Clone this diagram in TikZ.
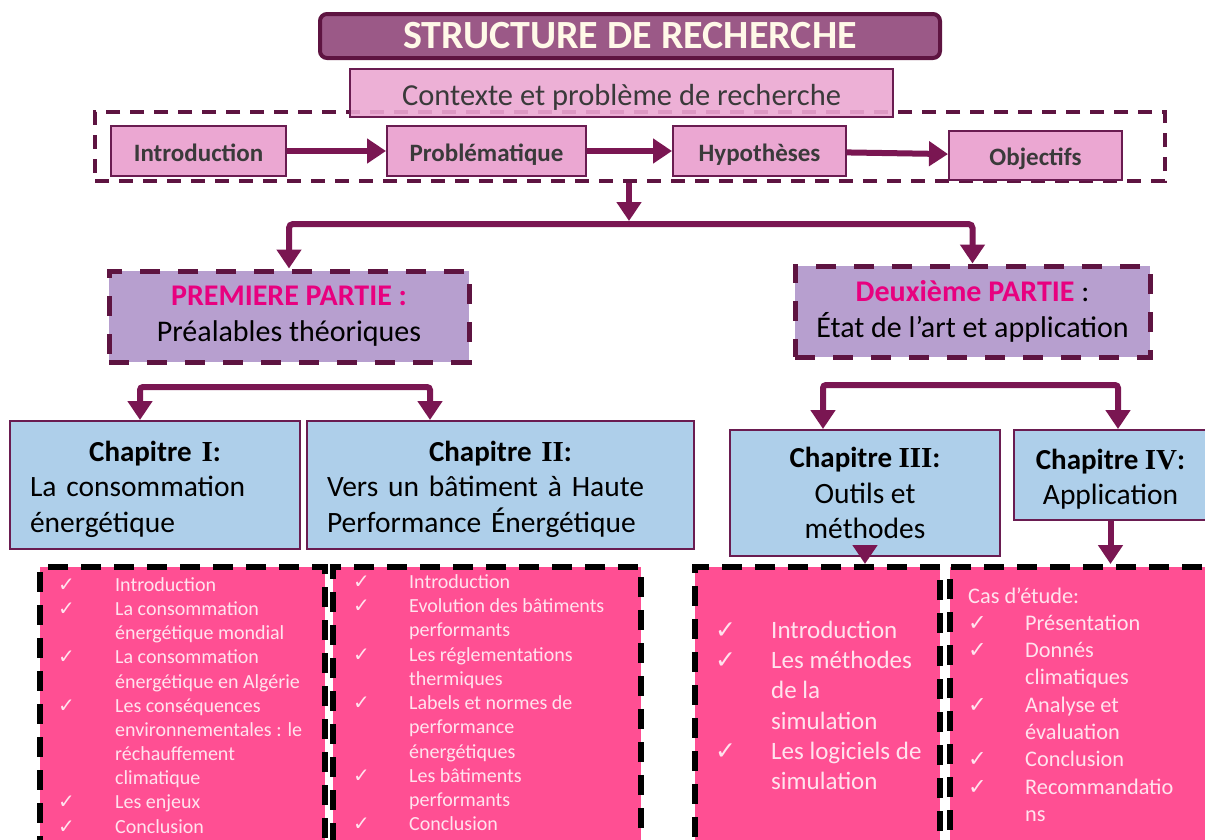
\documentclass[tikz,border=0pt]{standalone}
\usepackage{fontspec}
\setmainfont{Carlito}
\newfontfamily\dejavu{DejaVu Sans}
\newfontfamily\romfont{Liberation Serif}
\usetikzlibrary{arrows.meta}
\definecolor{plum}{HTML}{5E1441}
\definecolor{arrowc}{HTML}{7A1652}
\definecolor{titlefill}{HTML}{9B5987}
\definecolor{cream}{HTML}{FFF9E8}
\definecolor{lightpink}{HTML}{EBA7D2}
\definecolor{boxborder}{HTML}{6A1C51}
\definecolor{graytext}{HTML}{3A3A3A}
\definecolor{lavender}{HTML}{B79FCF}
\definecolor{partmag}{HTML}{E8007F}
\definecolor{chapblue}{HTML}{AECFEA}
\definecolor{hotpink}{HTML}{FF4F93}
\definecolor{listtext}{HTML}{FFE3EE}
\newcommand\ck{{\dejavu ✓}}
\newcommand\chaptitle[1]{{\bfseries\fontsize{29}{35.5}\selectfont Chapitre {\romfont #1}:}}
\tikzset{
  arr/.style={draw=arrowc, line width=6pt, -{Triangle[width=24pt,length=19pt]}},
  topbox/.style={draw=boxborder, line width=2pt, fill=lightpink, text=graytext,
    font=\fontsize{25}{30}\selectfont\bfseries, inner sep=0pt, text height=20pt, text depth=0pt},
  partbox/.style={draw=plum, line width=5pt, dash pattern=on 20pt off 18pt,
    fill=lavender, inner sep=0pt, align=center, font=\fontsize{30}{36}\selectfont},
  chapbox/.style={draw=boxborder, line width=2pt, fill=chapblue, inner sep=0pt,
    font=\fontsize{29.5}{35.5}\selectfont},
  chaptext/.style={inner sep=0pt, font=\fontsize{29.5}{35.5}\selectfont},
  listbox/.style={draw=black, line width=6pt, dash pattern=on 20pt off 13pt,
    fill=hotpink, inner sep=0pt},
  listtxt/.style={text=listtext, inner sep=0pt, anchor=base west},
}
\begin{document}
\begin{tikzpicture}[x=1pt,y=-1pt]
\useasboundingbox (0,0) rectangle (1205,839);
\clip (0,0) rectangle (1205,839);

% title
\node[draw=plum, line width=4pt, fill=titlefill, rounded corners=7pt,
  minimum width=620pt, minimum height=44pt, inner sep=0pt, text=cream,
  font=\fontsize{40}{44}\selectfont\bfseries] (title) at (630,36) {STRUCTURE DE RECHERCHE};

% dashed frame and context box
\node[draw=plum, line width=4pt, dash pattern=on 14pt off 10pt,
  minimum width=1070pt, minimum height=69pt, inner sep=0pt] (frame) at (630,146.5) {};
\node[draw=boxborder, line width=2pt, fill=lightpink, fill opacity=0.9, text opacity=1,
  text=graytext, minimum width=543pt, minimum height=48pt, inner sep=0pt,
  text height=24pt, text depth=0pt,
  font=\fontsize{30.5}{36}\selectfont] (ctx) at (621.5,93) {Contexte et problème de recherche};

% step boxes
\node[topbox, minimum width=175pt, minimum height=50pt] (intro) at (198.5,151) {Introduction};
\node[topbox, minimum width=199pt, minimum height=50pt] (prob) at (486.5,151) {Problématique};
\node[topbox, minimum width=173pt, minimum height=50pt] (hyp) at (759.5,151) {Hypothèses};
\node[topbox, minimum width=173pt, minimum height=49pt] (obj) at (1035.5,155.5) {Objectifs};
\draw[arr] (intro) -- (prob);
\draw[arr] (prob) -- (hyp);
\draw[arr] (hyp) -- (obj);

% parts
\node[partbox, minimum width=360pt, minimum height=91pt] (p1) at (289,316.5)
  {{\color{partmag}\bfseries PREMIERE PARTIE :}\\Préalables théoriques};
\node[partbox, minimum width=355pt, minimum height=91pt] (p2) at (972.5,311.5)
  {{\color{partmag}\bfseries Deuxième PARTIE} :\\État de l’art et application};

\coordinate (hub) at (629,224);
\draw[arr] (frame.south -| hub) -- ([yshift=3pt]hub);
\draw[arr, rounded corners=4pt] (hub) -| (p1.north);
\draw[arr, rounded corners=4pt] (hub) -| (p2.north);

% chapters
\node[chapbox, minimum width=290pt, minimum height=128pt] (ch1) at (155,485) {};
\node[chaptext, text width=250pt] (ch1t) at (155,489)
  {\centering\chaptitle{I}\par\raggedright La consommation\\énergétique\par};
\node[chapbox, minimum width=387pt, minimum height=128pt] (ch2) at (500.5,485) {};
\node[chaptext, text width=347pt] (ch2t) at (500.5,489)
  {\centering\chaptitle{II}\par\raggedright Vers un bâtiment à Haute\\Performance Énergétique\par};
\node[chapbox, minimum width=270pt, minimum height=126pt, align=center] (ch3) at (865,493)
  {\chaptitle{III}\\Outils et\\méthodes};
\node[chapbox, minimum width=193pt, minimum height=90pt] (ch4) at (1110.5,475) {};
\node[chaptext, align=center] (ch4t) at (1110.5,479) {\chaptitle{IV}\\Application};

\coordinate (brL) at (285,387);
\draw[arr, rounded corners=3pt] (brL) -| ([xshift=-15pt]ch1.north);
\draw[arr, rounded corners=3pt] (brL) -| ([xshift=-70.5pt]ch2.north);
\coordinate (brR) at (970,385);
\draw[arr, rounded corners=3pt] (brR) -| ([xshift=-42pt]ch3.north);
\draw[arr, rounded corners=3pt] (brR) -| ([xshift=7.5pt]ch4.north);

% list boxes
\node[listbox, minimum width=285pt, minimum height=283pt] (la) at (182.5,708.5) {};
\node[listbox, minimum width=308pt, minimum height=283pt] (lb) at (487,708.5) {};
\node[listbox, minimum width=245pt, minimum height=283pt] (lc) at (817.5,708.5) {};
\node[listbox, minimum width=265pt, minimum height=283pt] (ld) at (1082.5,708.5) {};

\draw[arr] ([yshift=10pt]ch3.south) -- (ch3.south |- lc.north);
\draw[arr] (ch4.south) -- (ch4.south |- ld.north);

\node[listtxt, font=\fontsize{20}{24.15}\selectfont] (ta) at (58,591.5) {%
\begin{tabular}[t]{@{}p{57pt}@{}l@{}}
\ck & Introduction\\
\ck & La consommation\\
    & énergétique mondial\\
\ck & La consommation\\
    & énergétique en Algérie\\
\ck & Les conséquences\\
    & environnementales : le\\
    & réchauffement\\
    & climatique\\
\ck & Les enjeux\\
\ck & Conclusion
\end{tabular}};

\node[listtxt, font=\fontsize{20}{24.25}\selectfont] (tb) at (353,588.3) {%
\begin{tabular}[t]{@{}p{56pt}@{}l@{}}
\ck & Introduction\\
\ck & Evolution des bâtiments\\
    & performants\\
\ck & Les réglementations\\
    & thermiques\\
\ck & Labels et normes de\\
    & performance\\
    & énergétiques\\
\ck & Les bâtiments\\
    & performants\\
\ck & Conclusion
\end{tabular}};

\node[listtxt, font=\fontsize{25}{30.3}\selectfont] (tc) at (715,638.3) {%
\begin{tabular}[t]{@{}p{56pt}@{}l@{}}
\ck & Introduction\\
\ck & Les méthodes\\
    & de la\\
    & simulation\\
\ck & Les logiciels de\\
    & simulation
\end{tabular}};

\node[listtxt, font=\fontsize{22.3}{27.3}\selectfont] (td) at (968,603) {%
\begin{tabular}[t]{@{}p{57pt}@{}l@{}}
\multicolumn{2}{@{}l@{}}{Cas d’étude:}\\
\ck & Présentation\\
\ck & Donnés\\
    & climatiques\\
\ck & Analyse et\\
    & évaluation\\
\ck & Conclusion\\
\ck & Recommandatio\\
    & ns
\end{tabular}};
\end{tikzpicture}
\end{document}
